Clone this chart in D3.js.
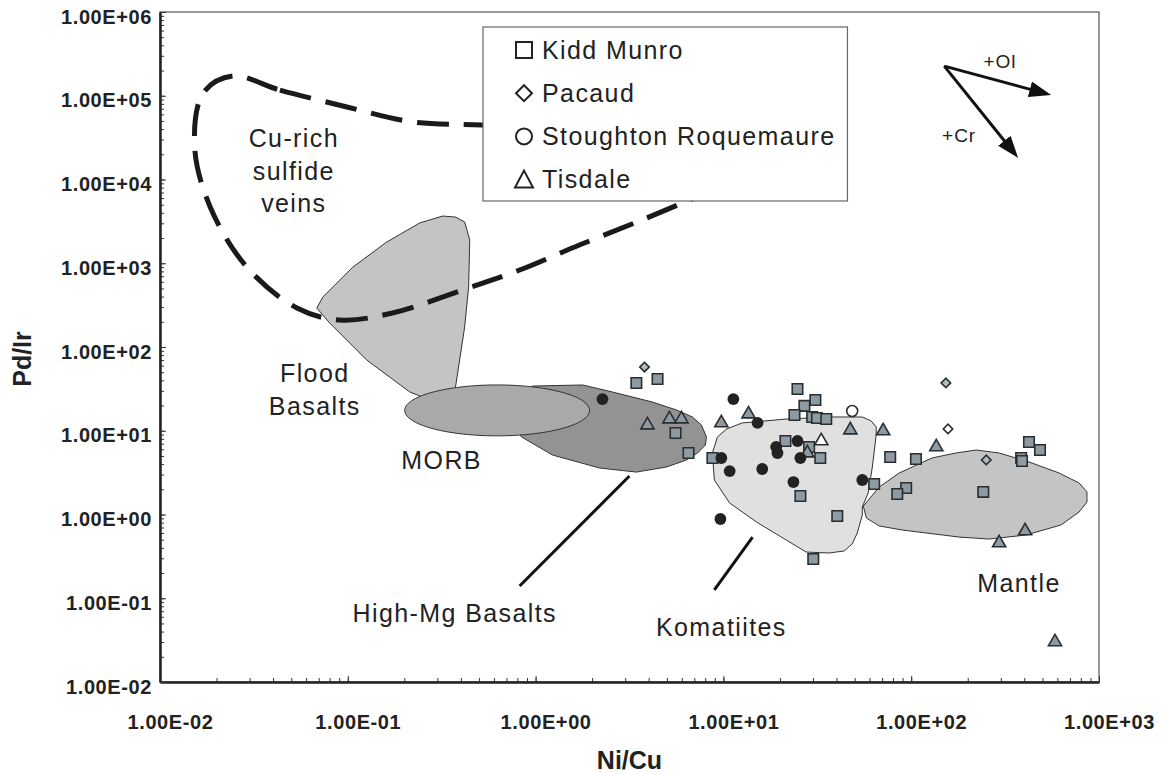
<!DOCTYPE html>
<html><head><meta charset="utf-8">
<script src="https://cdn.jsdelivr.net/npm/d3@7"></script>
<style>
html,body{margin:0;padding:0;background:#fff;}
svg{display:block;font-family:"Liberation Sans",Arial,Helvetica,sans-serif;}
</style></head><body>
<svg id="chart" width="1164" height="774"></svg>
<script>
// ---------- axis ticks ----------
const xTicks = [0.01, 0.1, 1, 10, 100, 1000];
const xTickLabels = ["1.00E-02","1.00E-01","1.00E+00","1.00E+01","1.00E+02","1.00E+03"];
const yTicks = [0.01, 0.1, 1, 10, 100, 1000, 1e4, 1e5, 1e6];
const yTickLabels = ["1.00E-02","1.00E-01","1.00E+00","1.00E+01","1.00E+02","1.00E+03","1.00E+04","1.00E+05","1.00E+06"];
const xTitle = "Ni/Cu";
const yTitle = "Pd/Ir";

// ---------- samples [Ni/Cu, Pd/Ir] ----------
const kiddMunro = [[3.44,37.2],[4.46,41.5],[5.56,9.40],[6.52,5.42],[24.8,31.5],[30.9,23.3],[27.0,19.8],[23.9,15.4],[29.7,14.6],[31.5,14.2],[35.3,13.8],[21.4,7.55],[28.6,6.40],[32.8,4.73],[8.74,4.73],[63.5,2.31],[25.7,1.66],[40.4,0.96],[30.1,0.294],[77.3,4.86],[106,4.60],[94.0,2.07],[84.3,1.76],[424,7.34],[485,5.89],[385,4.73],[389,4.35],[242,1.86]];
const pacaudFilled = [[3.80,57.7],[153,37.2],[251,4.48]];
const pacaudOpen = [[157,10.5]];
const stoughtonFilled = [[2.27,23.9],[11.3,23.9],[15.2,12.4],[24.8,7.55],[19.1,6.40],[19.4,5.42],[25.7,4.73],[9.75,4.73],[10.8,3.30],[16.1,3.49],[23.6,2.44],[54.9,2.58],[9.64,0.883]];
const stoughtonOpen = [[48.5,17.2]];
const tisdaleFilled = [[3.94,11.7],[5.16,13.8],[5.98,13.8],[9.75,12.4],[13.6,15.8],[47.4,10.2],[70.9,9.93],[28.0,5.42],[136,6.40],[404,0.635],[294,0.457],[583,0.0301]];
const tisdaleOpen = [[33.2,7.55]];

// ---------- reference fields [Ni/Cu, Pd/Ir] ----------
const floodBasalts = [[0.0684,292],[0.0736,395],[0.1064,900],[0.161,1790],[0.2415,3030],[0.32,3660],[0.375,3560],[0.419,3110],[0.446,1900],[0.44,520],[0.419,173],[0.394,70],[0.371,29],[0.29,22],[0.214,29],[0.126,70],[0.080,194]];
const highMgBasalts = [[0.964,34.2],[1.78,35.2],[2.57,29.0],[4.19,22.0],[5.62,17.7],[6.84,14.6],[7.64,11.7],[8.12,8.42],[8.02,6.76],[7.28,5.42],[6.36,4.48],[4.98,3.69],[3.44,3.21],[2.19,3.59],[1.23,5.13],[0.843,8.42],[0.644,17.7]];
const morbCenter = [0.624, 17.5];
const morbHalfDecades = [0.492, 0.304];
const komatiites = [[8.95,2.58],[8.74,5.42],[9.29,8.42],[10.4,10.5],[12.6,12.4],[21.6,13.8],[38.0,14.6],[54.9,14.6],[61.2,13.1],[65.1,11.1],[65.1,8.9],[62.1,3.69],[59.0,1.81],[54.9,1.23],[54.9,0.986],[51.6,0.601],[48.5,0.445],[44.0,0.367],[36.6,0.347],[27.6,0.356],[15.0,0.813],[10.8,1.37]];
const mantle = [[55.6,1.26],[67.6,2.13],[86.3,3.13],[129,4.73],[173,5.42],[222,5.89],[294,5.42],[424,4.24],[613,3.13],[783,2.38],[863,1.86],[863,1.41],[783,1.07],[628,0.750],[409,0.569],[260,0.509],[180,0.538],[89.5,0.653],[67.6,0.730],[57.7,0.908]];
const cuRichVeins = [[0.0244,172000],[0.0435,117000],[0.0989,73400],[0.222,48600],[0.516,44800],[1.52,39000],[4.04,23800],[8.95,13700],[10.1,8600],[6.6,5690],[3.57,3190],[1.71,1650],[0.822,830],[0.409,480],[0.173,255],[0.0906,210],[0.0536,292],[0.029,900],[0.0185,4700],[0.0153,24400],[0.017,108000]];

// ---------- annotations ----------
const highMgLeader = [[3.16,2.88],[0.822,0.140]];
const komatiiteLeader = [[14.3,0.538],[8.95,0.126]];
const olVector = [[150,226000],[556,102000]];
const crVector = [[150,226000],[371,18100]];
const fieldLabels = [
  {lines:["Cu-rich","sulfide","veins"], at:[0.0516,24400]},
  {lines:["Flood","Basalts"], at:[0.0667,38.2]},
  {lines:["MORB"], at:[0.316,3.49]},
  {lines:["High-Mg Basalts"], at:[0.371,0.052]},
  {lines:["Komatiites"], at:[9.75,0.0354]},
  {lines:["Mantle"], at:[375,0.119]},
  {lines:["+Ol"], at:[297,214000], small:true},
  {lines:["+Cr"], at:[180,28000], small:true}
];
const legendItems = ["Kidd Munro","Pacaud","Stoughton Roquemaure","Tisdale"];
const legendShapes = ["square","diamond","circle","triangle"];

// ---------- chart ----------
const W = 1164, H = 774;
const margin = {left:160, right:65, top:12, bottom:92};
const svg = d3.select("#chart");
const x = d3.scaleLog().domain([xTicks[0], xTicks[xTicks.length-1]]).range([margin.left, W - margin.right]);
const y = d3.scaleLog().domain([yTicks[0], yTicks[yTicks.length-1]]).range([H - margin.bottom, margin.top]);

const defs = svg.append("defs");
defs.append("marker").attr("id","ah").attr("viewBox","0 0 22 16")
  .attr("refX",22).attr("refY",8).attr("markerWidth",22).attr("markerHeight",16)
  .attr("markerUnits","userSpaceOnUse").attr("orient","auto")
  .append("path").attr("d","M0,0 L22,8 L0,16 Z").attr("fill","#111");

const polyLine = d3.line().x(d => x(d[0])).y(d => y(d[1])).curve(d3.curveLinearClosed);
const fields = svg.append("g");
function field(data, fill){
  fields.append("path").attr("d", polyLine(data)).attr("fill", fill)
    .attr("stroke","#333").attr("stroke-width",1);
}
field(floodBasalts, "#c4c4c4");
field(highMgBasalts, "#939393");
// MORB ellipse in log space
const morbPts = d3.range(90).map(i => {
  const t = i / 90 * 2 * Math.PI;
  return [Math.pow(10, Math.log10(morbCenter[0]) + morbHalfDecades[0]*Math.cos(t)),
          Math.pow(10, Math.log10(morbCenter[1]) + morbHalfDecades[1]*Math.sin(t))];
});
field(morbPts, "#a9a9a9");
field(komatiites, "#e0e0e0");
field(mantle, "#c4c4c4");

// Cu-rich veins dashed loop
svg.append("path")
  .attr("d", d3.line().x(d => x(d[0])).y(d => y(d[1])).curve(d3.curveCatmullRomClosed.alpha(0.5))(cuRichVeins))
  .attr("fill","none").attr("stroke","#1a1a1a").attr("stroke-width",5)
  .attr("stroke-dasharray","32,15");

// leader lines
[highMgLeader, komatiiteLeader].forEach(l => {
  svg.append("line").attr("x1",x(l[0][0])).attr("y1",y(l[0][1]))
    .attr("x2",x(l[1][0])).attr("y2",y(l[1][1]))
    .attr("stroke","#111").attr("stroke-width",3);
});

// vectors
[olVector, crVector].forEach(v => {
  const x0 = x(v[0][0]), y0 = y(v[0][1]), x1 = x(v[1][0]), y1 = y(v[1][1]);
  const len = Math.hypot(x1-x0, y1-y0);
  const ux = (x1-x0)/len, uy = (y1-y0)/len;
  svg.append("line").attr("x1",x0).attr("y1",y0)
    .attr("x2",x1 - ux*14).attr("y2",y1 - uy*14)
    .attr("stroke","#111").attr("stroke-width",3);
  svg.append("line").attr("x1",x1 - ux*15).attr("y1",y1 - uy*15)
    .attr("x2",x1).attr("y2",y1)
    .attr("stroke","none").attr("marker-end","url(#ah)");
});

// data points
const ptStroke = "#2a2e31";
function plot(data, type, fill, size, rotate){
  svg.append("g").selectAll("path").data(data).join("path")
    .attr("transform", d => `translate(${x(d[0])},${y(d[1])})${rotate ? " rotate(45)" : ""}`)
    .attr("d", d3.symbol().type(type).size(size)())
    .attr("fill", fill)
    .attr("stroke", type === d3.symbolCircle && fill !== "#fff" ? "none" : ptStroke)
    .attr("stroke-width", 1.6);
}
plot(kiddMunro, d3.symbolSquare, "#8e9ba3", 110);
plot(tisdaleFilled, d3.symbolTriangle, "#8e9ba3", 75);
plot(tisdaleOpen, d3.symbolTriangle, "#fff", 75);
plot(stoughtonFilled, d3.symbolCircle, "#222", 110);
plot(stoughtonOpen, d3.symbolCircle, "#fff", 95);
plot(pacaudFilled, d3.symbolSquare, "#b3bcc1", 45, true);
plot(pacaudOpen, d3.symbolSquare, "#fff", 45, true);

// axes frame
const pw = W - margin.left - margin.right, ph = H - margin.top - margin.bottom;
svg.append("rect").attr("x",margin.left).attr("y",margin.top).attr("width",pw).attr("height",ph)
  .attr("fill","none").attr("stroke","#333").attr("stroke-width",1);

const tickFont = g => g.selectAll("text").attr("font-size",20).attr("font-weight","bold")
  .attr("fill","#222").attr("letter-spacing","0.6px").attr("font-family",'"Liberation Sans",Arial,sans-serif');

const gxMinor = svg.append("g").attr("transform",`translate(0,${H - margin.bottom})`)
  .call(d3.axisBottom(x).tickValues(x.ticks()).tickSize(-4).tickSizeOuter(0).tickFormat(""));
const gx = svg.append("g").attr("transform",`translate(0,${H - margin.bottom})`)
  .call(d3.axisBottom(x).tickValues(xTicks).tickSize(-6).tickSizeOuter(0).tickPadding(33)
    .tickFormat((d,i) => xTickLabels[i]));
gx.call(tickFont);
gx.selectAll("text").attr("x",10);

const gyMinor = svg.append("g").attr("transform",`translate(${margin.left},0)`)
  .call(d3.axisLeft(y).tickValues(y.ticks()).tickSize(-4).tickSizeOuter(0).tickFormat(""));
const gy = svg.append("g").attr("transform",`translate(${margin.left},0)`)
  .call(d3.axisLeft(y).tickValues(yTicks).tickSize(-6).tickSizeOuter(0).tickPadding(8)
    .tickFormat((d,i) => yTickLabels[i]));
gy.call(tickFont);
gy.selectAll("text").attr("dy","0.55em");

[gx, gy, gxMinor, gyMinor].forEach(g => {
  g.selectAll(".tick line").attr("stroke","#333").attr("stroke-width",1);
  g.select(".domain").attr("stroke","#222").attr("stroke-width",2);
});

// axis titles
svg.append("text").attr("x", margin.left + pw/2).attr("y", 769)
  .attr("text-anchor","middle").attr("font-size",25).attr("font-weight","bold")
  .attr("fill","#222").text(xTitle);
svg.append("text").attr("transform",`translate(31,${margin.top + ph/2 + 12}) rotate(-90)`)
  .attr("text-anchor","middle").attr("font-size",25).attr("font-weight","bold")
  .attr("fill","#222").text(yTitle);

// field labels
fieldLabels.forEach(f => {
  const t = svg.append("text").attr("text-anchor","middle")
    .attr("font-size", f.small ? 19 : 25).attr("letter-spacing", f.small ? "1px" : "1.4px")
    .attr("fill","#222");
  f.lines.forEach((ln,i) => {
    t.append("tspan").attr("x", x(f.at[0])).attr("y", y(f.at[1]) + i*32.5).text(ln);
  });
});

// legend
const lg = svg.append("g");
const lgX = 483, lgY = 27, rowH = 43.2;
const box = lg.append("rect").attr("x",lgX).attr("y",lgY).attr("height",174)
  .attr("fill","#fff").attr("stroke","#666").attr("stroke-width",1.2);
let maxW = 0;
legendItems.forEach((name,i) => {
  const base = lgY + 31.5 + i*rowH;
  const cy = base - 8.5, cx = lgX + 41;
  const shp = legendShapes[i];
  if (shp === "square") lg.append("rect").attr("x",cx-8).attr("y",cy-8).attr("width",16).attr("height",16);
  if (shp === "diamond") lg.append("path").attr("d",`M${cx},${cy-8}L${cx+8},${cy}L${cx},${cy+8}L${cx-8},${cy}Z`);
  if (shp === "circle") lg.append("circle").attr("cx",cx).attr("cy",cy).attr("r",8);
  if (shp === "triangle") lg.append("path").attr("d",`M${cx},${cy-9}L${cx+9},${cy+8}L${cx-9},${cy+8}Z`);
  const t = lg.append("text").attr("x", lgX + 59).attr("y", base).attr("font-size",25)
    .attr("letter-spacing","1.4px").attr("fill","#222").text(name);
  maxW = Math.max(maxW, t.node().getComputedTextLength());
});
lg.selectAll("rect:not(:first-child), path, circle").attr("fill","none").attr("stroke","#222").attr("stroke-width",2);
box.attr("width", 59 + maxW + 12);
</script>
</body></html>
